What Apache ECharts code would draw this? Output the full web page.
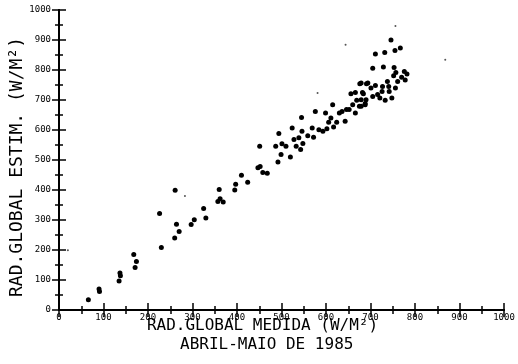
<!DOCTYPE html>
<html>
<head>
<meta charset="utf-8">
<script src="https://cdn.jsdelivr.net/npm/echarts@6/dist/echarts.min.js"></script>
<style>
    html, body { margin: 0; padding: 0; background: #fff; }
    #chart { width: 518px; height: 364px; }
</style>
</head>
<body>
<div id="chart"></div>
<script>
// rad. global medida x estimada (W/m2), abril-maio 1985
const pontos = [
    [66, 34], [90, 70], [91, 62],
    [137, 123], [138, 114], [135, 97],
    [168, 185], [174, 162], [171, 142],
    [226, 322], [230, 208],
    [260, 240], [261, 399], [264, 286], [270, 262],
    [297, 285], [304, 301], [325, 338], [330, 307],
    [357, 362], [362, 371], [369, 360], [360, 402],
    [395, 400], [397, 419], [410, 449], [424, 426],
    [447, 474], [452, 478], [451, 546], [458, 458], [468, 456],
    [487, 546], [494, 588], [501, 554], [510, 546], [499, 518], [520, 510], [492, 493],
    [524, 607], [528, 568], [533, 546], [543, 535], [539, 574], [546, 596], [548, 555], [545, 642],
    [559, 581], [569, 607], [572, 576], [576, 662], [584, 601], [593, 596], [599, 657],
    [602, 604], [606, 626], [611, 640], [615, 684], [617, 610], [624, 626], [630, 657],
    [636, 662], [643, 629], [646, 668], [652, 668], [660, 684], [666, 657], [656, 721],
    [666, 725], [676, 754], [691, 754], [669, 699], [679, 701], [675, 679], [688, 688], [684, 721],
    [746, 900], [711, 853], [732, 858], [755, 865], [767, 873],
    [705, 806], [729, 810], [753, 808], [757, 792], [776, 795], [782, 787],
    [770, 776], [778, 767], [752, 781], [761, 762], [738, 762], [741, 745], [756, 740],
    [748, 707], [733, 699], [721, 707], [727, 745], [726, 728], [742, 728],
    [711, 748], [716, 718], [701, 740], [705, 712], [694, 757], [679, 757],
    [682, 725], [690, 701], [688, 684], [679, 679],
];
// pontinhos fracos da copia
const pontosFracos = [[868, 834], [756, 947], [644, 884], [581, 723], [283, 380], [20, 199]];

const xTicks = ['0', '100', '200', '300', '400', '500', '600', '700', '800', '900', '1000'];
const yTicks = ['0', '100', '200', '300', '400', '500', '600', '700', '800', '900', '1000'];

const fonte = 'DejaVu Sans Mono';
const tinta = '#000';

const chart = echarts.init(document.getElementById('chart'));

const eixoBase = {
    type: 'value',
    min: 0,
    max: 1000,
    interval: 100,
    axisLine: { show: true, lineStyle: { color: tinta, width: 2 } },
    axisTick: { show: true, inside: true, length: 7, lineStyle: { color: tinta, width: 1.5 } },
    minorTick: { show: true, splitNumber: 2, length: 4, lineStyle: { color: tinta, width: 1.5 } },
    splitLine: { show: false },
};

chart.setOption({
    animation: false,
    title: {
        text: 'ABRIL-MAIO DE 1985',
        left: 180,
        top: 337,
        padding: 0,
        textStyle: { fontFamily: fonte, fontSize: 16, fontWeight: 'normal', color: tinta },
    },
    grid: { left: 59, right: 14, top: 10, bottom: 54 },
    xAxis: [
        {
            ...eixoBase,
            position: 'bottom',
            name: 'RAD.GLOBAL MEDIDA (W/M²)',
            nameLocation: 'middle',
            nameGap: 8,
            nameMoveOverlap: false,
            nameTextStyle: { fontFamily: fonte, fontSize: 16, color: tinta, padding: [0, 38, 0, 0] },
            axisLabel: {
                formatter: (v) => xTicks[Math.round(v / 100)],
                fontFamily: fonte, fontSize: 9, color: tinta, margin: 3,
            },
        },
        { ...eixoBase, position: 'top', axisLabel: { show: false } },
    ],
    yAxis: [
        {
            ...eixoBase,
            position: 'left',
            name: 'RAD.GLOBAL ESTIM. (W/M²)',
            nameLocation: 'middle',
            nameGap: 33,
            nameMoveOverlap: false,
            nameTextStyle: { fontFamily: fonte, fontSize: 18, color: tinta, padding: [0, 14, 0, 0] },
            axisLabel: {
                formatter: (v) => yTicks[Math.round(v / 100)],
                fontFamily: fonte, fontSize: 9, color: tinta, margin: 8,
            },
        },
        { ...eixoBase, position: 'right', axisLabel: { show: false } },
    ],
    series: [
        {
            type: 'scatter',
            data: pontos,
            symbol: 'circle',
            symbolSize: 5,
            itemStyle: { color: tinta, opacity: 1 },
        },
        {
            type: 'scatter',
            data: pontosFracos,
            symbol: 'circle',
            symbolSize: 2,
            itemStyle: { color: '#555', opacity: 1 },
        },
    ],
});
</script>
</body>
</html>
